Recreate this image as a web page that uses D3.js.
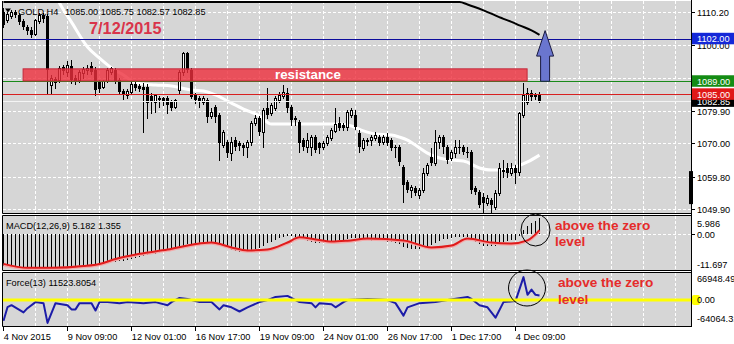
<!DOCTYPE html>
<html><head><meta charset="utf-8">
<script src="https://d3js.org/d3.v7.min.js"></script>
<style>
html,body{margin:0;padding:0;background:#ffffff;overflow:hidden;}
svg{display:block;}
text{font-family:"Liberation Sans",Arial,Helvetica,sans-serif;}
</style></head><body>
<svg id="chart" width="734" height="344"></svg>
<script>
// ---------------- DATA ----------------
const timeLabels=["4 Nov 2015","9 Nov 09:00","12 Nov 01:00","16 Nov 17:00","19 Nov 09:00","24 Nov 01:00","26 Nov 17:00","1 Dec 17:00","4 Dec 09:00"];
const timeLabelBars=[0,16,32,48,64,80,96,112,128];
const priceTicks=[1110.20,1100.00,1090.10,1079.90,1070.00,1059.80,1049.90];

const open=[1110.2,1107.75,1109.0,1110.2,1109.3,1107.4,1105.6,1104.7,1103.5,1107.4,
1109.3,1109.0,1087.85,1089.7,1089.4,1093.4,1091.8,1093.7,1090.0,1089.4,
1091.5,1092.4,1093.7,1092.4,1088.8,1087.2,1089.1,1091.8,1092.4,1089.4,
1086.0,1084.8,1085.7,1088.2,1087.55,1087.2,1087.2,1084.5,1082.65,1083.9,
1083.9,1083.9,1082.65,1081.1,1086.3,1091.8,1097.65,1092.4,1084.8,1083.9,
1082.65,1083.3,1078.4,1081.1,1078.7,1069.5,1070.4,1067.0,1071.0,1070.1,
1069.5,1068.9,1070.4,1076.2,1077.75,1073.5,1080.8,1079.3,1080.8,1083.3,
1084.5,1085.4,1081.1,1077.75,1076.5,1071.0,1068.9,1068.9,1071.9,1070.1,
1068.9,1070.1,1071.6,1073.8,1076.2,1075.6,1075.0,1078.7,1078.7,1073.2,
1068.6,1071.0,1071.0,1071.6,1071.9,1070.4,1071.9,1071.0,1068.9,1068.9,
1062.75,1058.2,1055.7,1056.3,1054.2,1055.7,1060.9,1065.8,1064.0,1070.4,
1071.9,1068.9,1065.5,1067.0,1068.9,1068.9,1067.3,1067.3,1056.3,1055.1,
1053.6,1051.7,1052.65,1050.5,1054.8,1061.8,1062.45,1060.9,1062.45,1061.2,
1078.7,1082.65,1085.4,1084.8,1085.00];
const high=[1111.4,1110.2,1110.8,1110.8,1109.9,1108.05,1106.2,1105.6,1108.05,1109.9,
1109.9,1109.6,1090.9,1090.3,1093.7,1094.0,1095.2,1095.5,1090.9,1092.4,
1093.4,1094.0,1094.9,1093.4,1089.4,1089.4,1093.1,1093.4,1093.1,1090.0,
1086.6,1086.6,1088.8,1088.8,1088.2,1088.5,1088.2,1085.4,1085.1,1084.5,
1084.2,1084.5,1083.3,1083.6,1092.4,1097.95,1097.95,1093.1,1085.4,1084.5,
1084.5,1083.9,1080.8,1081.7,1079.3,1074.1,1071.0,1071.9,1071.9,1070.7,
1070.1,1071.0,1076.8,1078.7,1078.4,1080.8,1086.9,1082.3,1084.5,1085.7,
1087.85,1086.9,1081.7,1078.4,1077.1,1071.6,1073.2,1072.55,1072.55,1070.4,
1070.7,1072.55,1074.7,1080.8,1078.1,1076.2,1080.2,1080.8,1080.2,1074.1,
1071.6,1071.6,1072.55,1073.5,1072.55,1072.55,1073.2,1071.6,1069.5,1069.5,
1063.4,1058.8,1057.2,1056.9,1056.3,1062.45,1064.0,1068.6,1074.1,1072.55,
1072.55,1069.5,1067.95,1071.0,1071.0,1069.5,1068.9,1067.95,1056.9,1055.7,
1054.8,1054.2,1053.3,1055.7,1064.0,1064.9,1064.0,1064.0,1063.4,1079.6,
1088.5,1086.9,1086.3,1085.4,1085.75];
const low=[1105.6,1107.1,1108.4,1108.7,1106.5,1105.0,1103.5,1102.5,1103.2,1106.8,
1107.1,1085.4,1085.4,1086.9,1088.8,1091.2,1090.6,1088.5,1088.2,1088.8,
1090.0,1091.2,1091.2,1084.8,1085.7,1086.9,1088.8,1091.2,1088.5,1085.1,
1083.6,1083.9,1085.1,1086.3,1086.0,1073.5,1077.75,1079.3,1079.6,1081.1,
1081.7,1079.3,1080.2,1080.8,1085.4,1090.9,1091.8,1083.9,1082.3,1081.1,
1082.0,1076.5,1077.75,1076.5,1064.9,1068.9,1065.8,1064.9,1067.95,1067.95,
1066.4,1065.8,1069.5,1075.6,1072.55,1068.9,1077.75,1078.7,1080.2,1082.65,
1083.9,1079.6,1075.6,1075.6,1067.3,1067.95,1067.3,1066.4,1067.3,1067.0,
1068.3,1069.5,1071.0,1073.5,1074.1,1074.1,1074.1,1078.1,1074.4,1067.3,
1067.95,1069.5,1069.5,1071.0,1069.5,1069.8,1069.5,1067.95,1065.8,1063.4,
1052.0,1055.1,1053.6,1054.2,1053.3,1055.1,1060.3,1063.4,1063.4,1068.6,
1067.0,1064.0,1064.9,1065.8,1067.0,1066.7,1065.8,1054.8,1054.5,1050.5,
1049.0,1051.1,1049.0,1049.9,1054.2,1059.7,1059.7,1060.3,1057.85,1060.3,
1078.1,1082.0,1083.3,1083.6,1082.57];
const close=[1106.2,1109.6,1110.2,1109.3,1107.1,1105.6,1104.4,1103.2,1107.75,1109.3,
1108.05,1092.4,1090.0,1088.5,1093.1,1092.1,1094.0,1089.4,1088.8,1091.8,
1092.75,1093.1,1091.8,1086.3,1086.6,1089.1,1092.4,1093.1,1089.1,1085.7,
1084.8,1086.0,1088.2,1086.9,1086.6,1086.3,1082.3,1082.95,1084.8,1083.3,
1082.95,1081.7,1080.8,1083.3,1091.8,1097.65,1092.4,1084.2,1083.3,1082.95,
1083.9,1078.1,1079.6,1078.1,1070.1,1073.5,1067.0,1070.4,1068.9,1069.2,
1068.6,1070.4,1076.2,1077.75,1073.5,1080.2,1078.7,1081.7,1083.9,1084.8,
1085.7,1080.8,1077.1,1077.1,1070.1,1068.9,1071.0,1071.9,1067.95,1068.6,
1070.1,1071.9,1074.1,1075.9,1074.7,1074.7,1079.6,1080.2,1075.0,1068.9,
1071.0,1070.4,1071.9,1072.55,1070.1,1071.9,1070.1,1068.6,1068.6,1064.3,
1057.2,1055.7,1056.6,1054.8,1055.7,1060.9,1063.4,1064.0,1070.4,1071.9,
1068.9,1064.9,1067.3,1068.9,1068.6,1067.3,1067.0,1055.7,1055.1,1051.1,
1051.7,1053.3,1051.1,1054.8,1062.45,1061.2,1060.9,1062.45,1060.9,1079.3,
1084.8,1085.4,1084.2,1084.2,1082.85];

const macdMain=[-10.3,-10.4,-10.4,-10.5,-10.6,-10.6,-10.7,-10.7,-10.7,-10.6,
-10.6,-10.9,-10.9,-10.9,-10.8,-10.8,-10.8,-10.8,-10.8,-10.7,
-10.6,-10.4,-10.3,-10.3,-10.0,-9.7,-9.4,-9.2,-9.0,-8.9,
-8.7,-8.4,-8.0,-7.7,-7.4,-7.1,-6.9,-6.6,-6.3,-6.0,
-5.7,-5.4,-5.1,-4.9,-4.3,-3.7,-3.3,-3.2,-3.0,-2.8,
-2.6,-2.7,-2.9,-3.1,-3.8,-4.2,-4.6,-5.0,-5.4,-5.7,
-5.9,-5.8,-5.4,-4.9,-4.5,-3.8,-3.0,-2.4,-1.9,-1.3,
-0.8,-0.6,-0.7,-0.9,-1.5,-2.0,-2.3,-2.6,-2.8,-2.9,
-2.9,-2.7,-2.5,-2.1,-1.9,-1.8,-1.5,-1.2,-1.1,-1.5,
-1.8,-2.0,-2.1,-2.1,-2.2,-2.3,-2.4,-2.6,-2.8,-3.2,
-4.2,-4.6,-4.8,-4.9,-4.9,-4.6,-4.1,-3.6,-2.8,-2.1,
-1.6,-1.4,-1.2,-1.0,-0.9,-0.9,-1.0,-2.0,-2.6,-3.3,
-3.7,-3.8,-3.9,-3.7,-3.0,-2.5,-2.2,-2.0,-1.9,-0.5,
1.3,2.7,3.7,4.5,5.182];
const signalIdx=[0,6,12,20,24,28,34,41,49,52,57,61,66,71,74,78,82,86,91,100,107,112,116,122,127,131,134];
const signalVal=[-9.7,-11.0,-11.0,-10.4,-9.7,-8.1,-6.4,-5.0,-3.0,-2.7,-4.3,-5.3,-5.0,-2.7,-1.0,-1.7,-2.4,-2.1,-1.4,-2.0,-4.3,-3.7,-1.4,-2.7,-3.0,-2.0,1.355];

const forceIdx=[0,1,2,5,6,8,10,11,13,16,17,18,19,21,22,23,24,26,29,31,35,38,41,42,44,46,49,52,54,55,57,59,61,64,66,68,71,73,74,77,78,79,82,83,85,86,91,96,98,100,101,104,108,111,116,117,119,121,123,125,128,130,131,132,133,134];
const forceVal=[-51300,-17600,-12500,-30400,-20000,-5000,-7600,-56400,-7600,-12700,-23000,-23000,-7600,-7600,-7600,-25800,-5000,-5000,-7600,-5000,-7600,-5000,-12700,-5000,5300,2700,-5000,-5000,-23000,-12700,-17900,-28200,-17900,-5000,0,7900,10400,0,-5000,-7600,-17900,-7600,-10200,-17900,-5000,0,2700,0,-7600,-38400,-17900,-7600,-5000,0,7900,2700,-12700,-17900,-43600,-5000,-2500,56700,13000,25800,13000,11523.8];

const whiteMaIdx=[13,14,17,21,24,27,30,33,38,42,47,50,53,57,60,64,67,72,84,87,90,93,97,99,101,104,106,109,112,115,119,122,125,128,131,134];
const whiteMaVal=[1115.4,1112.95,1107.1,1099.5,1096.1,1093.1,1090.9,1088.5,1087.85,1087.55,1086.3,1086.0,1084.8,1082.3,1080.5,1078.4,1075.9,1075.9,1075.9,1075.3,1073.8,1072.85,1072.55,1071.9,1071.0,1068.6,1067.0,1065.5,1064.9,1064.6,1062.45,1061.8,1061.8,1062.75,1064.3,1066.4];
const blackMaIdx=[0,100,114,116,120,125,127,129,132,134];
const blackMaVal=[1125,1120,1113.9,1112.5,1110.7,1108.1,1107.2,1106.1,1104.6,1103.2];

const levelBlue=1102.00, levelGreen=1089.00, levelRed=1085.00, bidPrice=1082.85;
const resistanceLow=1089.1, resistanceHigh=1092.8, resistanceFrom=4.9, resistanceTo=130.9;
const arrowBar=135.4, arrowBase=1089.0, arrowNeck=1096.7, arrowTip=1104.5;
const rightMarker=[1051.4,1061.5];
const macdTickVals=[5.986,0,-11.697], macdTickLabels=["5.986","0.00","-11.697"];
const forceTickVals=[66948.49,0,-64064.31], forceTickLabels=["66948.49","0.00","-64064.31"];
const titleSymbol="GOLD,H4", titleValues="1085.00 1085.75 1082.57 1082.85";
const macdTitle="MACD(12,26,9) 5.182 1.355", forceTitle="Force(13) 11523.8054";
const dateNote="7/12/2015", resistanceText="resistance", note1="above the zero", note2="level";

// ---------------- SCALES ----------------
const svg=d3.select("#chart");
const L=3,R=691;
const xs=d3.scaleLinear().domain([0,172]).range([3.5,691.5]);
const yp=d3.scaleLinear().domain([1049.9,1110.2]).range([209,12]);
const ym=d3.scaleLinear().domain([-11.697,5.986]).range([270,216]);
const yf=d3.scaleLinear().domain([-64064.31,66948.49]).range([326,273]);
const GRAY="#d6d6d6";
const FONT=9.2;

// backgrounds
svg.append("rect").attr("x",L).attr("y",1).attr("width",R-L).attr("height",212).attr("fill",GRAY);
svg.append("rect").attr("x",L).attr("y",216).attr("width",R-L).attr("height",54).attr("fill",GRAY);
svg.append("rect").attr("x",L).attr("y",273).attr("width",R-L).attr("height",53).attr("fill",GRAY);

const defs=svg.append("defs");
defs.append("clipPath").attr("id","cm").append("rect").attr("x",L).attr("y",1).attr("width",R-L).attr("height",212);
defs.append("clipPath").attr("id","cd").append("rect").attr("x",L).attr("y",216).attr("width",R-L).attr("height",54);
defs.append("clipPath").attr("id","cf").append("rect").attr("x",L).attr("y",273).attr("width",R-L).attr("height",53);

// vertical grid
const gridBars=d3.range(8,172,8);
[[1,213],[216,270],[273,326]].forEach(([t,b])=>{
  svg.append("g").selectAll("line").data(gridBars).join("line")
    .attr("x1",d=>xs(d)).attr("x2",d=>xs(d)).attr("y1",t).attr("y2",b)
    .attr("stroke","#fff").attr("stroke-dasharray","3,2");
});
// horizontal grid main
svg.append("g").selectAll("line").data(priceTicks).join("line")
  .attr("x1",L).attr("x2",R).attr("y1",d=>Math.round(yp(d))+0.5).attr("y2",d=>Math.round(yp(d))+0.5)
  .attr("stroke","#fff").attr("stroke-dasharray","3,2");
// macd zero grid
svg.append("line").attr("x1",L).attr("x2",R).attr("y1",Math.round(ym(0))+0.5).attr("y2",Math.round(ym(0))+0.5)
  .attr("stroke","#fff").attr("stroke-dasharray","3,2");

// ---------------- MAIN ----------------
const gm=svg.append("g").attr("clip-path","url(#cm)");
const lineW=d3.line().x(d=>xs(d[0])).y(d=>yp(d[1])).curve(d3.curveMonotoneX);
gm.append("path").attr("d",lineW(whiteMaIdx.map((d,i)=>[d,whiteMaVal[i]])))
  .attr("fill","none").attr("stroke","#ffffff").attr("stroke-width",3);
const lineB=d3.line().x(d=>xs(d[0])).y(d=>Math.max(2,yp(d[1]))).curve(d3.curveMonotoneX);
gm.append("path").attr("d",lineB(blackMaIdx.map((d,i)=>[d,blackMaVal[i]])))
  .attr("fill","none").attr("stroke","#000").attr("stroke-width",2);

// candles
const gc=gm.append("g");
open.forEach((o,i)=>{
  const c=close[i], xc=xs(i);
  gc.append("line").attr("x1",xc).attr("x2",xc)
    .attr("y1",Math.round(yp(high[i]))).attr("y2",Math.round(yp(low[i]))+1).attr("stroke","#000");
  const t=Math.round(yp(Math.max(o,c))), b=Math.round(yp(Math.min(o,c)));
  if(c>=o){
    gc.append("rect").attr("x",xc-1).attr("y",t+0.5).attr("width",2).attr("height",Math.max(b-t,0))
      .attr("fill","#fff").attr("stroke","#000");
  } else {
    gc.append("rect").attr("x",xc-1.5).attr("y",t).attr("width",3).attr("height",Math.max(b-t,1)).attr("fill","#000");
  }
});

// bid line
gm.append("line").attr("x1",L).attr("x2",R).attr("y1",Math.round(yp(bidPrice))+0.5).attr("y2",Math.round(yp(bidPrice))+0.5)
  .attr("stroke","#f4f4f4");
// level lines
[[levelBlue,"#0c0c9c"],[levelGreen,"#1a8a1a"],[levelRed,"#d82020"]].forEach(([v,c])=>{
  gm.append("line").attr("x1",L).attr("x2",R).attr("y1",Math.round(yp(v))+0.5).attr("y2",Math.round(yp(v))+0.5).attr("stroke",c);
});
// resistance rectangle
gm.append("rect").attr("x",xs(resistanceFrom)).attr("y",yp(resistanceHigh))
  .attr("width",xs(resistanceTo)-xs(resistanceFrom)).attr("height",yp(resistanceLow)-yp(resistanceHigh))
  .attr("fill","#ee2e3c").attr("fill-opacity",0.8).attr("stroke","#c4283a").attr("stroke-width",1);
gm.append("text").attr("x",275).attr("y",79).attr("fill","#fff").attr("font-weight","bold")
  .attr("font-size",13.3).text(resistanceText);

// arrow
{
  const cx=xs(arrowBar), yb=yp(arrowBase), yn=yp(arrowNeck), yt=yp(arrowTip);
  const p=`M${cx-4.5},${yb}L${cx-4.5},${yn}L${cx-8.5},${yn}L${cx},${yt}L${cx+8.5},${yn}L${cx+4.5},${yn}L${cx+4.5},${yb}Z`;
  gm.append("path").attr("d",p).attr("fill","#6a76cf").attr("stroke","#1a1a40").attr("stroke-width",1);
}
// right marker
svg.append("rect").attr("x",689).attr("y",yp(rightMarker[1])).attr("width",4)
  .attr("height",yp(rightMarker[0])-yp(rightMarker[1])).attr("fill","#000");

// title
svg.append("path").attr("d","M5,8.5h6l-3,4z").attr("fill","#000");
svg.append("text").attr("x",18).attr("y",14.5).attr("font-size",FONT).attr("fill","#000").text(titleSymbol);
svg.append("text").attr("x",65).attr("y",14.5).attr("font-size",FONT).attr("fill","#000").text(titleValues);
svg.append("text").attr("x",89).attr("y",33.5).attr("font-size",16.3).attr("font-weight","bold").attr("fill","#d9344a").text(dateNote);

// ---------------- MACD ----------------
const gd=svg.append("g").attr("clip-path","url(#cd)");
gd.append("g").selectAll("line").data(macdMain).join("line")
  .attr("x1",(d,i)=>xs(i)).attr("x2",(d,i)=>xs(i))
  .attr("y1",Math.round(ym(0))).attr("y2",d=>Math.round(ym(d)))
  .attr("stroke","#000").attr("stroke-width",1);
const lineS=d3.line().x(d=>xs(d[0])).y(d=>ym(d[1])).curve(d3.curveMonotoneX);
const sigPts=signalIdx.map((d,i)=>[d,signalVal[i]]);
gd.append("path").attr("d",lineS(sigPts)).attr("fill","none").attr("stroke","#f4a8a8").attr("stroke-width",3).attr("transform","translate(0,0.8)");
gd.append("path").attr("d",lineS(sigPts)).attr("fill","none").attr("stroke","#e01b1b").attr("stroke-width",2);
svg.append("text").attr("x",6).attr("y",228.5).attr("font-size",FONT).attr("fill","#000").text(macdTitle);

// ---------------- FORCE ----------------
const gf=svg.append("g").attr("clip-path","url(#cf)");
const lineF=d3.line().x(d=>xs(d[0])).y(d=>yf(d[1]));
gf.append("path").attr("d",lineF(forceIdx.map((d,i)=>[d,forceVal[i]])))
  .attr("fill","none").attr("stroke","#1c1ca8").attr("stroke-width",2).attr("stroke-linejoin","round");
gf.append("line").attr("x1",L).attr("x2",R).attr("y1",yf(0)).attr("y2",yf(0)).attr("stroke","#ffff00").attr("stroke-width",3);
svg.append("text").attr("x",6).attr("y",286).attr("font-size",FONT).attr("fill","#000").text(forceTitle);

// ---------------- BORDERS ----------------
const bl=(x1,y1,x2,y2)=>svg.append("line").attr("x1",x1).attr("y1",y1).attr("x2",x2).attr("y2",y2).attr("stroke","#000");
bl(2.5,1,2.5,213.5); bl(2.5,213.5,691.5,213.5);
bl(2.5,215.5,691.5,215.5); bl(2.5,215.5,2.5,270.5); bl(2.5,270.5,691.5,270.5);
bl(2.5,272.5,691.5,272.5); bl(2.5,272.5,2.5,326.5); bl(2.5,326.5,691.5,326.5);
bl(691.5,0,691.5,327);

// ---------------- RIGHT AXIS ----------------
const ra=svg.append("g");
priceTicks.forEach(v=>{
  const y=Math.round(yp(v))+0.5;
  ra.append("line").attr("x1",691).attr("x2",695).attr("y1",y).attr("y2",y).attr("stroke","#000");
  ra.append("text").attr("x",697).attr("y",y+3.3).attr("font-size",FONT).attr("fill","#000").text(v.toFixed(2));
});
// price label boxes
[[bidPrice,"#000000"],[levelRed,"#e01818"],[levelGreen,"#148c14"],[levelBlue,"#1428d8"]].forEach(([v,c])=>{
  const y=yp(v);
  ra.append("rect").attr("x",692).attr("y",y-6).attr("width",42).attr("height",11.5).attr("fill",c);
  ra.append("text").attr("x",697).attr("y",y+3.3).attr("font-size",FONT).attr("fill","#fff").text(v.toFixed(2));
});
// macd labels
const macdLabelY=[223.3,234.4,264.5];
macdTickLabels.forEach((t,i)=>{
  ra.append("text").attr("x",697).attr("y",macdLabelY[i]+3.3).attr("font-size",FONT).attr("fill","#000").text(t);
});
ra.append("line").attr("x1",691).attr("x2",695).attr("y1",Math.round(ym(0))+0.5).attr("y2",Math.round(ym(0))+0.5).attr("stroke","#000");
// force labels
ra.append("rect").attr("x",692).attr("y",yf(0)-5).attr("width",8).attr("height",10).attr("rx",2).attr("fill","#ffff00");
const forceLabelY=[279,300,319];
forceTickLabels.forEach((t,i)=>{
  ra.append("text").attr("x",697).attr("y",forceLabelY[i]+3.3).attr("font-size",FONT).attr("fill","#000").text(t);
});

// ---------------- TIME AXIS ----------------
const ta=svg.append("g");
timeLabelBars.forEach((b,i)=>{
  const x=xs(b);
  ta.append("line").attr("x1",x).attr("x2",x).attr("y1",326.5).attr("y2",331).attr("stroke","#000");
  ta.append("text").attr("x",x+0.3).attr("y",340).attr("font-size",FONT).attr("fill","#000").text(timeLabels[i]);
});

// ---------------- ANNOTATIONS ----------------
svg.append("ellipse").attr("cx",535.5).attr("cy",230).attr("rx",14.5).attr("ry",16)
  .attr("fill","none").attr("stroke","#000").attr("stroke-width",1);
svg.append("ellipse").attr("cx",527).attr("cy",288).attr("rx",18.5).attr("ry",18)
  .attr("fill","none").attr("stroke","#000").attr("stroke-width",1);
const RED="#e52b2b";
[[555,230,note1],[555,246,note2],[558,287,note1],[558,304,note2]].forEach(([x,y,t])=>{
  svg.append("text").attr("x",x).attr("y",y).attr("font-size",13.6).attr("font-weight","bold").attr("fill",RED).text(t);
});
</script>
</body></html>
